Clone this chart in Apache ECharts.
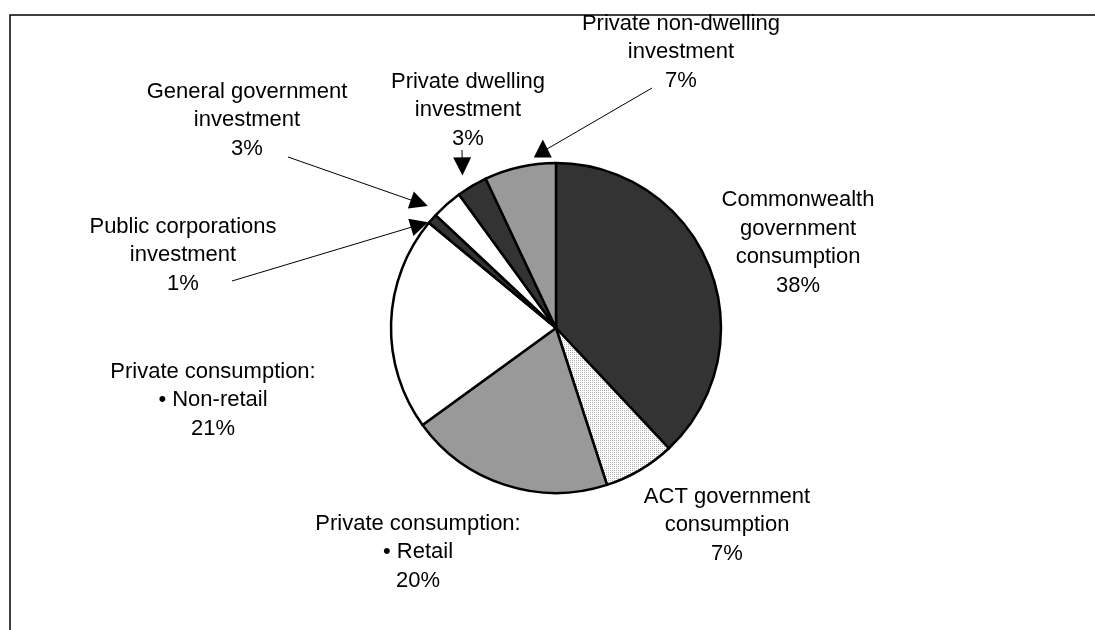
<!DOCTYPE html>
<html>
<head>
<meta charset="utf-8">
<script src="https://cdn.jsdelivr.net/npm/echarts@6/dist/echarts.min.js"></script>
<style>
  html, body { margin: 0; padding: 0; background: #ffffff; }
  #chart { width: 1095px; height: 630px; }
</style>
</head>
<body>
<div id="chart"></div>
<script>
// Shares of the expenditure mix, clockwise from twelve o'clock
const categories = [
  'Commonwealth\ngovernment\nconsumption',
  'ACT government\nconsumption',
  'Private consumption:\n• Retail',
  'Private consumption:\n• Non-retail',
  'Public corporations\ninvestment',
  'General government\ninvestment',
  'Private dwelling\ninvestment',
  'Private non-dwelling\ninvestment'
];
const shares = [38, 7, 20, 21, 1, 3, 3, 7];

// ---- styling and layout ----
const CX = 556, CY = 328, R = 165;
const FONT = '"Liberation Sans", Arial, Helvetica, sans-serif';

// fine stipple used for the ACT slice
function stipple() {
  const c = document.createElement('canvas');
  c.width = 2; c.height = 2;
  const g = c.getContext('2d');
  g.fillStyle = '#ffffff'; g.fillRect(0, 0, 2, 2);
  g.fillStyle = '#b4b4b4';
  g.fillRect(0, 0, 1, 1);
  return { image: c, repeat: 'repeat' };
}
const fills = ['#333333', stipple(), '#999999', '#ffffff', '#333333', '#ffffff', '#333333', '#999999'];

// centre of each label block
const labelSpots = [[798, 243], [727, 525], [418, 552], [213, 400], [183, 255], [247, 120], [468, 110], [681, 52]];

// arrowed leader lines: tail near the label, head pointing at the slice
const callouts = {
  4: { tail: [232, 281], turn: -1.8, gap: 1 },
  5: { tail: [288, 157], turn: -5, gap: 12 },
  6: { tail: [462, 150], turn: -0.9, gap: 14 },
  7: { tail: [652, 88], turn: 8.6, gap: 24, up: true }
};

const total = shares.reduce((a, b) => a + b, 0);
function midAngle(i) {
  let start = 0;
  for (let k = 0; k < i; k++) start += shares[k];
  return (start + shares[i] / 2) / total * 360;
}
function polar(deg, r) {
  const a = deg * Math.PI / 180;
  return [CX + r * Math.sin(a), CY - r * Math.cos(a)];
}

const arrowGraphics = [];
Object.keys(callouts).forEach(function (key) {
  const i = +key, c = callouts[i];
  const tip = polar(midAngle(i) + c.turn, R + c.gap);
  let dx = tip[0] - c.tail[0], dy = tip[1] - c.tail[1];
  if (c.up) { dx = 0; dy = -1; }
  const len = Math.hypot(dx, dy); dx /= len; dy /= len;
  const L = 18, HW = 9;
  const bx = tip[0] - dx * L, by = tip[1] - dy * L;
  const p1 = [bx - dy * HW, by + dx * HW], p2 = [bx + dy * HW, by - dx * HW];
  const cen = [(tip[0] + p1[0] + p2[0]) / 3, (tip[1] + p1[1] + p2[1]) / 3];
  arrowGraphics.push({
    type: 'line', z: 10,
    shape: { x1: c.tail[0], y1: c.tail[1], x2: cen[0], y2: cen[1] },
    style: { stroke: '#000000', lineWidth: 1 }
  });
  arrowGraphics.push({
    type: 'polygon', z: 11,
    shape: { points: [tip, p1, p2] },
    style: { fill: '#000000' }
  });
});

const chart = echarts.init(document.getElementById('chart'), null, { renderer: 'canvas' });
chart.setOption({
  animation: false,
  backgroundColor: '#ffffff',
  graphic: [
    {
      type: 'rect', z: 0, silent: true,
      shape: { x: 10, y: 15, width: 1400, height: 1000 },
      style: { fill: 'none', stroke: '#000000', lineWidth: 1.5 }
    }
  ].concat(arrowGraphics),
  series: [{
    type: 'pie',
    center: [CX, CY],
    radius: R,
    startAngle: 90,
    clockwise: true,
    avoidLabelOverlap: false,
    emphasis: { disabled: true },
    itemStyle: { borderColor: '#000000', borderWidth: 2.5 },
    label: {
      show: true,
      position: 'outside',
      color: '#000000',
      fontFamily: FONT,
      fontSize: 22,
      lineHeight: 28.5,
      align: 'center',
      formatter: function (p) { return p.name + '\n' + p.value + '%'; }
    },
    labelLine: { show: false },
    labelLayout: function (p) {
      const s = labelSpots[p.dataIndex];
      return { x: s[0], y: s[1], align: 'center', verticalAlign: 'middle', hideOverlap: false };
    },
    data: categories.map(function (name, i) {
      return { name: name, value: shares[i], itemStyle: { color: fills[i] } };
    })
  }]
});
</script>
</body>
</html>
